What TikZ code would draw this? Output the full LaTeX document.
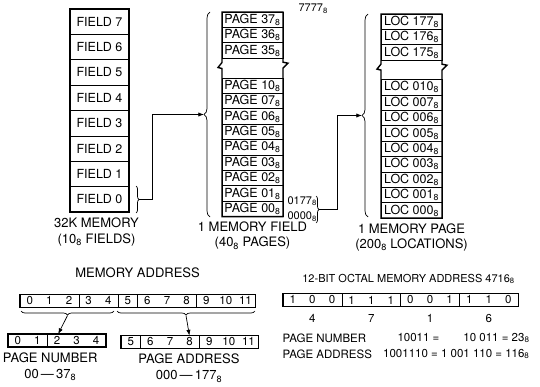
\documentclass[tikz,border=0pt]{standalone}
\usepackage{fontspec}
\setmainfont{TeX Gyre Heros}
\usetikzlibrary{
  arrows.meta,
  positioning,
  decorations.pathreplacing
}
\newlength{\bitw}
\setlength{\bitw}{19.6pt}
\newcommand{\oct}{\textsubscript{8}}
\newcommand{\bitgroup}[1]{\foreach \b in {#1}{\makebox[\bitw]{\b}}}
\tikzset{
  cellfont/.style={font=\fontsize{12.5}{13}\selectfont},
  bitfont/.style={font=\fontsize{11.5}{12}\selectfont},
  smallfont/.style={font=\fontsize{11}{12}\selectfont},
  fieldcell/.style={draw,line width=0.6pt,minimum width=59pt,minimum height=25.4pt,inner sep=0pt,outer sep=0pt,cellfont},
  pagecell/.style={draw,line width=0.6pt,minimum width=61pt,minimum height=15.4pt,inner sep=0pt,outer sep=0pt,cellfont},
  bitbox/.style={draw,line width=0.6pt,minimum height=13pt,inner sep=0pt,outer sep=0pt,bitfont},
  caption/.style={font=\fontsize{13}{15}\selectfont,align=center},
  frame/.style={line width=1.4pt,line join=miter},
  curly/.style={decorate,decoration={brace,amplitude=#1},line width=0.7pt},
  link/.style={-{Latex[length=2mm,width=1.5mm]},line width=0.7pt}
}
\begin{document}
\begin{tikzpicture}[x=1pt,y=-1pt]
\useasboundingbox (0,0) rectangle (540,387);

% 32K memory
\node[fieldcell] (f7) at (99.5,21.7) {FIELD 7};
\foreach \i [evaluate=\i as \j using int(\i+1)] in {6,5,...,0}
  \node[fieldcell, below=0pt of f\j] (f\i) {FIELD \i};
\draw[frame] (f7.north west) rectangle (f0.south east);
\node[caption, below=2pt of f0, xshift=-3pt] (fcap) {32K MEMORY\\[1pt](10\oct{} FIELDS)};

% one memory field
\node[pagecell] (p37) at (252.5,19.7) {PAGE 37\oct};
\node[pagecell, below=0pt of p37] (p36) {PAGE 36\oct};
\node[pagecell, below=0pt of p36] (p35) {PAGE 35\oct};
\node[pagecell] (p10) at (252.5,85.7) {PAGE 10\oct};
\foreach \i/\j in {07/10,06/07,05/06,04/05,03/04,02/03,01/02,00/01}
  \node[pagecell, below=0pt of p\j] (p\i) {PAGE \i\oct};
\node[caption, below=2pt of p00] (pcap) {1 MEMORY FIELD\\(40\oct{} PAGES)};
\node[smallfont, anchor=west] (ptop) at ([xshift=12pt,yshift=3pt]p37.north east) {7777\oct};
\node[smallfont, anchor=west] (plo) at ([xshift=1pt]p00.north east) {0177\oct};
\node[smallfont, anchor=west] (pzero) at ([xshift=1pt]p00.south east) {0000\oct};

% one memory page
\node[pagecell] (l177) at (411.5,21.7) {LOC 177\oct};
\node[pagecell, below=0pt of l177] (l176) {LOC 176\oct};
\node[pagecell, below=0pt of l176] (l175) {LOC 175\oct};
\node[pagecell] (l010) at (411.5,87.3) {LOC 010\oct};
\foreach \i/\j in {007/010,006/007,005/006,004/005,003/004,002/003,001/002,000/001}
  \node[pagecell, below=0pt of l\j] (l\i) {LOC \i\oct};
\node[caption, below=2pt of l000] (lcap) {1 MEMORY PAGE\\(200\oct{} LOCATIONS)};

% broken outlines
\foreach \top/\mid/\low/\bot in {p37/p35/p10/p00, l177/l175/l010/l000}
  \draw[frame] (\mid.south west) -- (\top.north west) -- (\top.north east)
    -- (\mid.south east) -- ++(0,4) -- ++(5,1) -- ++(-5,5) -- (\low.north east)
    -- (\bot.south east) -- (\bot.south west) -- (\low.north west)
    -- ++(0,-9.5) -- ++(-4,-1) -- ++(4,-5) -- cycle;

% braces and links
\draw[curly=3pt] (136,186) -- (136,213);
\coordinate (fdtip) at (139,199.5);
\draw[curly=6pt] (210,217) -- (210,12);
\coordinate (pgin) at (204,114.5);
\draw[curly=3pt] (316,196) -- (316,223);
\coordinate (pgtip) at (319,209.5);
\draw[curly=6pt] (368,217) -- (368,14);
\coordinate (lcin) at (362,115.5);
\draw[link] (fdtip) -- ++(13,0) |- (pgin);
\draw[link] (pgtip) -- ++(18,0) |- (lcin);

% memory address
\node[bitbox] (ma1) at (49.4,301) {\bitgroup{0,1,2}};
\node[bitbox, right=0pt of ma1] (ma2) {\bitgroup{3,4}};
\node[bitbox, right=0pt of ma2] (ma3) {\bitgroup{5}};
\node[bitbox, right=0pt of ma3] (ma4) {\bitgroup{6,7,8}};
\node[bitbox, right=0pt of ma4] (ma5) {\bitgroup{9,10,11}};
\draw[frame] (ma1.north west) rectangle (ma5.south east);
\node[caption, above=13pt of ma3.north east] (macap) {MEMORY ADDRESS};

\node[bitbox] (pn1) at (27.6,340.5) {\bitgroup{0,1}};
\node[bitbox, right=0pt of pn1] (pn2) {\bitgroup{2,3,4}};
\draw[frame] (pn1.north west) rectangle (pn2.south east);
\node[caption, below=2pt of pn1.south east, xshift=3pt] (pncap) {PAGE NUMBER\\[1pt]00\,\textemdash\,37\oct};

\node[bitbox] (pa1) at (130.8,342) {\bitgroup{5}};
\node[bitbox, right=0pt of pa1] (pa2) {\bitgroup{6,7,8}};
\node[bitbox, right=0pt of pa2] (pa3) {\bitgroup{9,10,11}};
\draw[frame] (pa1.north west) rectangle (pa3.south east);
\node[caption, below=2pt of pa2, xshift=19pt] (pacap) {PAGE ADDRESS\\[1pt]000\,\textemdash\,177\oct};

\draw[curly=4pt] (114,311) -- (21,311);
\coordinate (pntip) at (67.5,315.5);
\draw[curly=4pt] (255,311) -- (117,311);
\coordinate (patip) at (186,315.5);
\draw[link] (pntip) -- ([xshift=11pt]pn2.north west);
\draw[link] (patip) -- ([xshift=-10pt]pa2.north east);

% octal example
\node[bitbox] (o1) at (312.4,300) {\bitgroup{1,0,0}};
\node[bitbox, right=0pt of o1] (o2) {\bitgroup{1,1,1}};
\node[bitbox, right=0pt of o2] (o3) {\bitgroup{0,0,1}};
\node[bitbox, right=0pt of o3] (o4) {\bitgroup{1,1,0}};
\draw[frame] (o1.north west) rectangle (o4.south east);
\node[font=\fontsize{11}{12}\selectfont, anchor=south east] (otitle) at ([yshift=6pt]o4.north east) {12-BIT OCTAL MEMORY ADDRESS 4716\oct};
\node[bitfont, below=4pt of o1] (d1) {4};
\node[bitfont, below=4pt of o2] (d2) {7};
\node[bitfont, below=4pt of o3] (d3) {1};
\node[bitfont, below=4pt of o4] (d4) {6};

\node[bitfont, anchor=west] (nlab) at (279,338) {PAGE NUMBER};
\node[bitfont, anchor=west] (nbin) at (394,338) {10011 =};
\node[bitfont, anchor=east] (noct) at (533,338) {10 011 = 23\oct};
\node[bitfont, anchor=west] (alab) at (279,354) {PAGE ADDRESS};
\node[bitfont, anchor=east] (aoct) at (533,354) {1001110 = 1 001 110 = 116\oct};
\end{tikzpicture}
\end{document}
